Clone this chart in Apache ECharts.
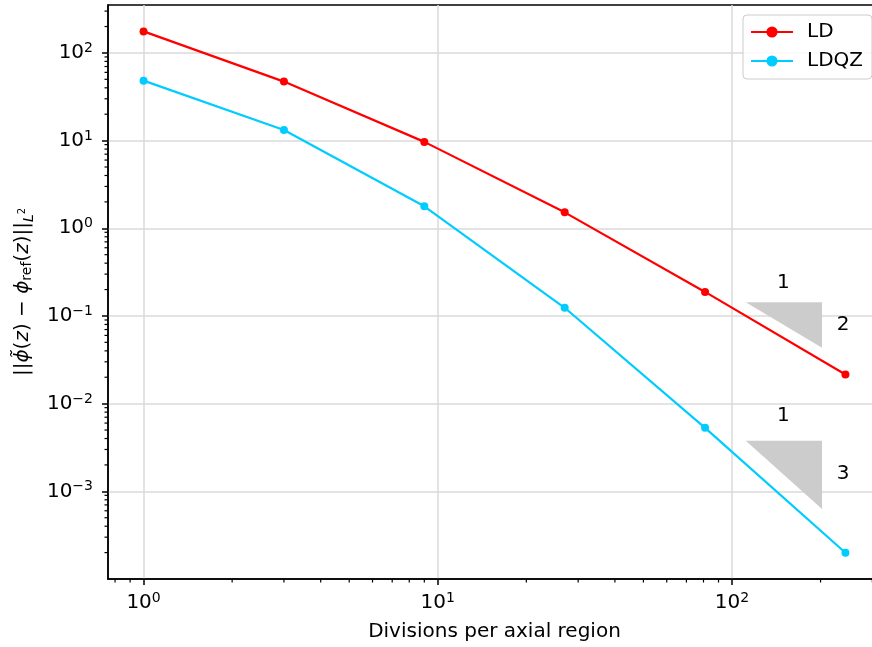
<!DOCTYPE html>
<html>
<head>
<meta charset="utf-8">
<script src="https://cdn.jsdelivr.net/npm/echarts@6/dist/echarts.min.js"></script>
<style>
    html, body { margin: 0; padding: 0; background: #ffffff; }
    #chart { width: 872px; height: 647px; }
</style>
</head>
<body>
<div id="chart"></div>
<script>
const divisions = [1, 3, 9, 27, 81, 243];
const ldError = [176, 47.1, 9.67, 1.52, 0.188, 0.0215];
const ldqzError = [48.3, 13.2, 1.78, 0.124, 0.0053, 0.000199];

const xMajorTicks = [1, 10, 100];
const yMajorTicks = [0.001, 0.01, 0.1, 1, 10, 100];

// slope triangles (reference lines for order 2 and 3)
const triangleX = [111.4, 202.3];
const triangleTop = [0.1432, 0.00378];
const triangleBottom = [0.0435, 0.000628];
const runLabels = ["1", "1"];
const runLabelY = [0.242, 0.00728];
const riseLabels = ["2", "3"];
const riseLabelY = [0.0803, 0.0016];
const runLabelX = 149.4;
const riseLabelX = 238.8;

const X_MIN = 0.757;
const X_MAX = 321;
const Y_MIN = 1.0e-4;
const Y_MAX = 352;

const FONT = "DejaVu Sans";
const RED = "#ff0000";
const CYAN = "#00ccff";

function minorValues(lo, hi, fromExp, toExp) {
    const out = [];
    for (let e = fromExp; e <= toExp; e++) {
        for (let m = 2; m <= 9; m++) {
            const v = m * Math.pow(10, e);
            if (v > lo && v < hi) {
                out.push(v);
            }
        }
    }
    return out;
}

function powerLabel(value) {
    const e = Math.round(Math.log10(value));
    const exp = e < 0 ? "\u2212" + (-e) : String(e);
    return "10{sup|" + exp + "}";
}

const tickRich = {
    sup: {
        fontSize: 14,
        fontFamily: FONT,
        color: "#000",
        verticalAlign: "middle",
        padding: [0, 0, 9, 0]
    }
};

const xMinor = minorValues(X_MIN, X_MAX, -1, 2);
const yMinor = minorValues(Y_MIN, Y_MAX, -4, 2);

const chart = echarts.init(document.getElementById("chart"), null, { renderer: "canvas" });

function tickSeries(values, isX) {
    return {
        type: "custom",
        silent: true,
        clip: false,
        z: 5,
        data: values.map(v => (isX ? [v, Y_MIN] : [X_MIN, v])),
        renderItem: (params, api) => {
            const p = api.coord([api.value(0), api.value(1)]);
            const shape = isX
                ? { x1: p[0], y1: p[1], x2: p[0], y2: p[1] + 3.5 }
                : { x1: p[0], y1: p[1], x2: p[0] - 3.5, y2: p[1] };
            return {
                type: "line",
                shape: shape,
                style: { stroke: "#000", lineWidth: 1.2 }
            };
        }
    };
}

chart.setOption({
    animation: false,
    backgroundColor: "#ffffff",
    grid: {
        left: 108,
        top: 5,
        width: 773,
        height: 574,
        outerBoundsMode: "none",
        containLabel: false,
        show: true,
        borderColor: "#000",
        borderWidth: 1.5,
        backgroundColor: "transparent"
    },
    legend: {
        data: ["LD", "LDQZ"],
        orient: "vertical",
        left: 743,
        top: 15,
        padding: [7, 9, 8, 7],
        itemWidth: 42,
        itemHeight: 14,
        itemGap: 9,
        borderColor: "#cccccc",
        borderWidth: 1,
        borderRadius: 4,
        backgroundColor: "rgba(255,255,255,0.8)",
        textStyle: {
            fontSize: 20,
            fontFamily: FONT,
            color: "#000",
            padding: [0, 0, 0, 9]
        }
    },
    xAxis: {
        type: "log",
        min: X_MIN,
        max: X_MAX,
        name: "Divisions per axial region",
        nameLocation: "middle",
        nameGap: 43,
        nameTextStyle: { fontSize: 20, fontFamily: FONT, color: "#000" },
        axisLine: { lineStyle: { color: "#000", width: 1.5 } },
        axisTick: { customValues: xMajorTicks, length: 6, lineStyle: { color: "#000", width: 1.5 } },
        axisLabel: {
            customValues: xMajorTicks,
            margin: 12,
            fontSize: 20,
            fontFamily: FONT,
            color: "#000",
            formatter: powerLabel,
            rich: tickRich
        },
        splitLine: { show: true, lineStyle: { color: "#dadada", width: 1.5 } }
    },
    yAxis: {
        type: "log",
        min: Y_MIN,
        max: Y_MAX,
        name: "||{it|\u03d5\u0303}({it|z}) \u2212 {it|\u03d5}{sub|ref}({it|z})||{subit|L}{subsup|2}",
        nameLocation: "middle",
        nameRotate: 90,
        nameGap: 68,
        nameTextStyle: {
            fontSize: 20,
            fontFamily: FONT,
            color: "#000",
            rich: {
                it: { fontSize: 20, fontFamily: FONT, fontStyle: "italic", color: "#000", verticalAlign: "middle" },
                sub: { fontSize: 14, fontFamily: FONT, color: "#000", verticalAlign: "middle", padding: [9, 0, 0, 0] },
                subit: { fontSize: 14, fontFamily: FONT, fontStyle: "italic", color: "#000", verticalAlign: "middle", padding: [12, 0, 0, 0] },
                subsup: { fontSize: 10, fontFamily: FONT, color: "#000", verticalAlign: "middle", padding: [0, 0, 2, 0] }
            }
        },
        axisLine: { lineStyle: { color: "#000", width: 1.5 } },
        axisTick: { customValues: yMajorTicks, length: 6, lineStyle: { color: "#000", width: 1.5 } },
        axisLabel: {
            customValues: yMajorTicks,
            margin: 15,
            fontSize: 20,
            fontFamily: FONT,
            color: "#000",
            formatter: powerLabel,
            rich: tickRich
        },
        splitLine: { show: true, lineStyle: { color: "#dadada", width: 1.5 } }
    },
    series: [
        tickSeries(xMinor, true),
        tickSeries(yMinor, false),
        {
            type: "custom",
            silent: true,
            z: 1,
            data: triangleTop.map((t, i) => [triangleX[0], triangleX[1], t, triangleBottom[i]]),
            renderItem: (params, api) => {
                const a = api.coord([api.value(0), api.value(2)]);
                const b = api.coord([api.value(1), api.value(2)]);
                const c = api.coord([api.value(1), api.value(3)]);
                return {
                    type: "polygon",
                    shape: { points: [a, b, c] },
                    style: { fill: "#cccccc" }
                };
            }
        },
        {
            type: "custom",
            silent: true,
            z: 1,
            data: runLabelY.map((y, i) => [runLabelX, y, riseLabelX, riseLabelY[i]]),
            renderItem: (params, api) => {
                const run = api.coord([api.value(0), api.value(1)]);
                const rise = api.coord([api.value(2), api.value(3)]);
                const textStyle = {
                    fontSize: 20,
                    fontFamily: FONT,
                    fill: "#000",
                    align: "center",
                    verticalAlign: "middle"
                };
                return {
                    type: "group",
                    children: [
                        { type: "text", x: run[0], y: run[1], style: Object.assign({ text: runLabels[params.dataIndex] }, textStyle) },
                        { type: "text", x: rise[0], y: rise[1], style: Object.assign({ text: riseLabels[params.dataIndex] }, textStyle) }
                    ]
                };
            }
        },
        {
            name: "LD",
            type: "line",
            z: 3,
            data: divisions.map((x, i) => [x, ldError[i]]),
            symbol: "circle",
            symbolSize: 8,
            itemStyle: { color: RED },
            lineStyle: { color: RED, width: 2.2 }
        },
        {
            name: "LDQZ",
            type: "line",
            z: 3,
            data: divisions.map((x, i) => [x, ldqzError[i]]),
            symbol: "circle",
            symbolSize: 8,
            itemStyle: { color: CYAN },
            lineStyle: { color: CYAN, width: 2.2 }
        }
    ]
});
</script>
</body>
</html>
